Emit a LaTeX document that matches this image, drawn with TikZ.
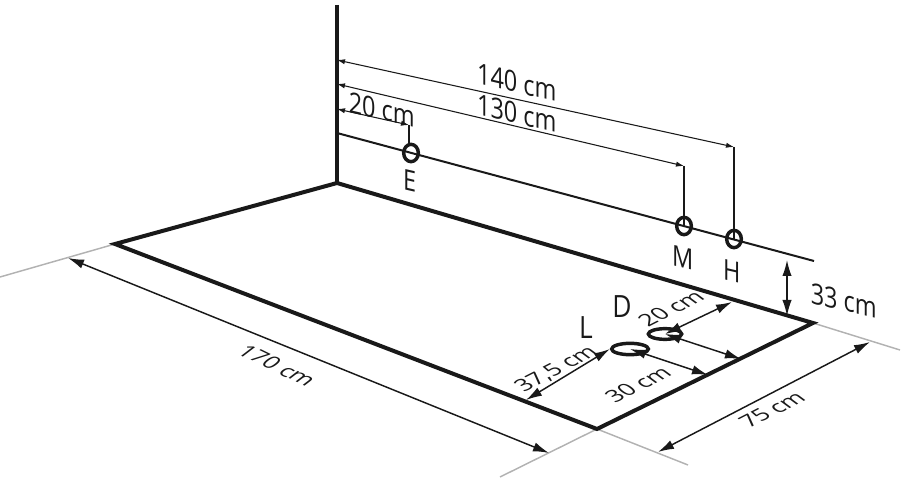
\documentclass[tikz,border=0pt]{standalone}
\usepackage{fontspec}
\setmainfont{Open Sans}
\newfontfamily\wallfont[FakeStretch=0.86,FakeSlant=-0.23]{Open Sans}
\newfontfamily\uprightfont[FakeStretch=0.86]{Open Sans}
\newfontfamily\floorfont[FakeStretch=1.2,FakeSlant=-0.5]{Open Sans}
\newfontfamily\sidefont[FakeStretch=1.2,FakeSlant=0.5]{Open Sans}
\usetikzlibrary{arrows.meta, shapes.geometric}
\tikzset{
    edgeline/.style={line width=3pt, draw=black!90},
    guideline/.style={line width=1.1pt, draw=black!30},
    pipeline/.style={line width=1.5pt, draw=black!90},
    dropline/.style={line width=1.2pt, draw=black!90},
    thindim/.style={line width=0.8pt, draw=black!90, {Latex[length=6pt,width=4pt]}-{Latex[length=6pt,width=4pt]}},
    bigdim/.style={line width=1.1pt, draw=black!90, {Latex[length=12pt,width=7pt]}-{Latex[length=12pt,width=7pt]}},
    port/.style={ellipse, draw=black!90, line width=2.6pt, minimum width=11pt, minimum height=13pt, inner sep=0pt},
    drain/.style={ellipse, draw=black!90, line width=2.6pt, inner sep=0pt},
    walltag/.style={font=\fontsize{21}{23}\selectfont\wallfont, inner sep=0pt, text=black!90, rotate=-13},
    plaintag/.style={font=\fontsize{23}{25}\selectfont\uprightfont, inner sep=0pt, text=black!90},
    floortag/.style={font=\fontsize{14.5}{17}\selectfont\floorfont, inner sep=0pt, text=black!90, rotate=27},
    sidetag/.style={font=\fontsize{14.5}{17}\selectfont\sidefont, inner sep=0pt, text=black!90, rotate=-26}
}
\begin{document}
\begin{tikzpicture}[x=0.75pt, y=-0.75pt]
    \useasboundingbox (0,0) rectangle (913,491);

    % Corners of the tray
    \coordinate (top) at (337,5);
    \coordinate (back) at (337,183);
    \coordinate (left) at (115,244);
    \coordinate (front) at (597,429);
    \coordinate (right) at (813,323);

    % Grey guides
    \coordinate (leftend) at (0,277);
    \coordinate (frontl) at (500,477);
    \coordinate (frontr) at (688,465);
    \coordinate (rightend) at (900,350);
    \draw[guideline] (left) -- (leftend);
    \draw[guideline] (front) -- (frontl);
    \draw[guideline] (front) -- (frontr);
    \draw[guideline] (right) -- (rightend);

    % Wall and floor outline
    \draw[edgeline] (top) -- (back);
    \draw[edgeline] (back) -- (left) -- (front) -- (right) -- cycle;

    % Pipe line and outlets
    \coordinate (pipel) at (337,133);
    \coordinate (piper) at (814,261);
    \draw[pipeline] (pipel) -- (piper);
    \node[port] (E) at (411,153) {};
    \node[port] (M) at (684,226) {};
    \node[port] (H) at (734,239) {};
    \node[walltag] (Elabel) at (412,181) {E};
    \node[walltag] (Mlabel) at (685,258) {M};
    \node[walltag] (Hlabel) at (734,272) {H};

    % Distances along the wall
    \coordinate (w140) at (337,60);
    \coordinate (w130) at (337,84);
    \coordinate (w20) at (337,109);
    \coordinate (e20) at (409,125);
    \coordinate (e130) at (684,166);
    \coordinate (e140) at (734,147);
    \draw[thindim] (w140) -- (e140);
    \draw[thindim] (w130) -- (e130);
    \draw[thindim] (w20) -- (e20);
    \draw[dropline] (e140) -- (H.center);
    \draw[dropline] (e130) -- (M.center);
    \draw[dropline] (e20) -- (E.north -| e20);
    \node[walltag] (t140) at (519,83) {140 cm};
    \node[walltag] (t130) at (519,114) {130 cm};
    \node[walltag] (t20) at (384,110) {20 cm};

    % Height
    \coordinate (h1) at (787,260);
    \coordinate (h2) at (787,316);
    \draw[bigdim] (h1) -- (h2);
    \node[walltag] (t33) at (846,301) {33 cm};

    % Drain and overflow
    \node[drain, minimum width=27.5pt, minimum height=8.5pt] (L) at (630,349) {};
    \node[drain, minimum width=25pt, minimum height=8pt] (D) at (665,334) {};
    \node[plaintag] (Llabel) at (586,328) {L};
    \node[plaintag] (Dlabel) at (622,307) {D};
    \coordinate (d20) at (732,302);
    \coordinate (d30) at (741,359);
    \coordinate (l37) at (526,400);
    \coordinate (l30) at (708,375);
    \draw[bigdim] (D.center) -- (d20);
    \draw[bigdim] (D.center) -- (d30);
    \draw[bigdim] (L.center) -- (l30);
    \draw[bigdim] (L.west) -- (l37);
    \node[floortag] (td20) at (674,307) {20 cm};
    \node[floortag] (tl37) at (559,368) {37,5 cm};
    \node[floortag] (tl30) at (641,383) {30 cm};

    % Outer sizes
    \coordinate (a75) at (658,452);
    \coordinate (b75) at (870,342);
    \coordinate (a170) at (68,258);
    \coordinate (b170) at (549,453);
    \draw[bigdim] (a75) -- (b75);
    \draw[bigdim] (a170) -- (b170);
    \node[floortag] (t75) at (775,408) {75 cm};
    \node[sidetag] (t170) at (274,364) {170 cm};
\end{tikzpicture}
\end{document}
